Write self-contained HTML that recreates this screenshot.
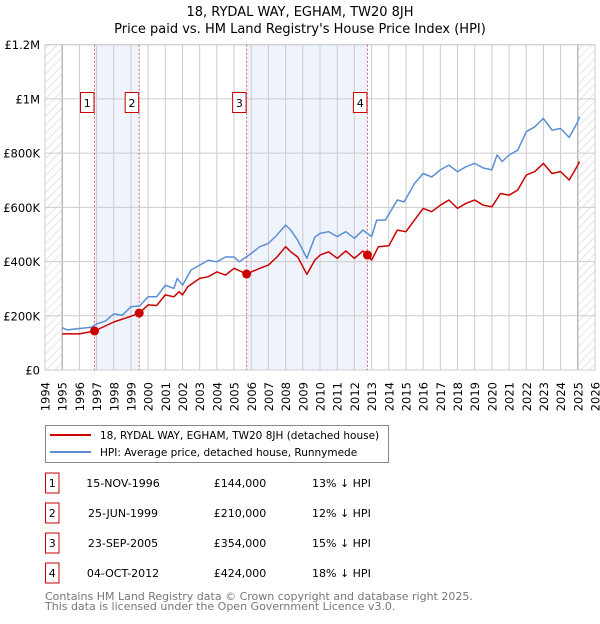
<!DOCTYPE html>
<html><head><meta charset="utf-8"><style>
body{margin:0;background:#fff;font-family:"DejaVu Sans","Liberation Sans",sans-serif;}
svg text{font-family:"DejaVu Sans","Liberation Sans",sans-serif;}
</style></head><body>
<svg id="c" width="600" height="620" viewBox="0 0 600 620" xmlns="http://www.w3.org/2000/svg">
<defs><pattern id="hatch" width="6" height="6" patternUnits="userSpaceOnUse" patternTransform="rotate(45)"><line x1="0" y1="0" x2="0" y2="6" stroke="#ccc" stroke-width="1"/></pattern></defs>
<text x="300" y="16" text-anchor="middle" font-size="13">18, RYDAL WAY, EGHAM, TW20 8JH</text>
<text x="300" y="33" text-anchor="middle" font-size="13">Price paid vs. HM Land Registry's House Price Index (HPI)</text>
<g id="plot"></g>
<g>
<rect x="45.5" y="425.5" width="343" height="37" fill="#fff" stroke="#888"/>
<line x1="50" y1="435" x2="91" y2="435" stroke="#cc0000" stroke-width="2"/>
<text x="100" y="439" font-size="10.5">18, RYDAL WAY, EGHAM, TW20 8JH (detached house)</text>
<line x1="50" y1="452" x2="91" y2="452" stroke="#5b8fd4" stroke-width="2"/>
<text x="100" y="456" font-size="10.5">HPI: Average price, detached house, Runnymede</text>
</g>
<g id="table"></g>
<text x="45" y="600" font-size="11" fill="#777">Contains HM Land Registry data © Crown copyright and database right 2025.</text>
<text x="45" y="610" font-size="11" fill="#777">This data is licensed under the Open Government Licence v3.0.</text>
</svg>
<script>
const hpiYears=[1995,1995.3,1996,1996.7,1997,1997.5,1998,1998.5,1999,1999.5,2000,2000.5,2001,2001.5,2001.7,2002,2002.5,2003,2003.5,2004,2004.5,2005,2005.3,2005.7,2006,2006.5,2007,2007.5,2008,2008.3,2008.7,2009.24,2009.7,2010,2010.5,2011,2011.5,2012,2012.5,2013,2013.3,2013.8,2014.5,2014.9,2015.5,2016,2016.5,2017,2017.5,2018,2018.5,2019,2019.5,2020,2020.3,2020.6,2021,2021.5,2022,2022.5,2023,2023.5,2024,2024.5,2025,2025.1];
const hpiValues=[156,148,153,158,170,180,207,202,233,236,270,270,313,301,338,313,369,387,405,399,417,417,399,417,430,455,467,498,535,516,479,412,490,504,510,492,510,486,516,492,553,553,627,620,688,725,712,738,756,732,750,762,745,738,793,769,793,811,879,897,928,885,891,858,916,934];
const priceYears=[1995,1996,1996.88,1998,1999,1999.48,2000,2000.5,2001,2001.5,2001.8,2002,2002.3,2003,2003.5,2004,2004.5,2005,2005.73,2006,2006.5,2007,2007.5,2008,2008.3,2008.7,2009.24,2009.7,2010,2010.5,2011,2011.5,2012,2012.5,2012.76,2013,2013.4,2014,2014.5,2015,2015.5,2016,2016.5,2017,2017.5,2018,2018.5,2019,2019.5,2020,2020.5,2021,2021.5,2022,2022.5,2023,2023.5,2024,2024.5,2025,2025.1];
const priceValues=[133,133,144,177,198,210,240,238,277,270,289,277,307,338,344,362,350,375,354,362,375,387,417,455,436,417,353,405,424,436,412,439,412,439,424,405,455,458,516,510,553,596,584,608,627,596,615,627,608,602,651,645,664,719,732,762,725,732,701,756,769];
const saleYears=[1996.88,1999.48,2005.73,2012.76];
const saleValues=[144,210,354,424];
const saleLabels=["1","2","3","4"];
const saleDates=["15-NOV-1996","25-JUN-1999","23-SEP-2005","04-OCT-2012"];
const salePrices=["£144,000","£210,000","£354,000","£424,000"];
const saleDiffs=["13% ↓ HPI","12% ↓ HPI","15% ↓ HPI","18% ↓ HPI"];
const yTicks=[0,200,400,600,800,1000,1200];
const yTickLabels=["£0","£200K","£400K","£600K","£800K","£1M","£1.2M"];
const xTicks=[1994,1995,1996,1997,1998,1999,2000,2001,2002,2003,2004,2005,2006,2007,2008,2009,2010,2011,2012,2013,2014,2015,2016,2017,2018,2019,2020,2021,2022,2023,2024,2025,2026];

const L=45,R=595,T=44.7,B=370,X0=1994,X1=2026,YM=1200;
const xs=v=>L+(v-X0)/(X1-X0)*(R-L);
const ys=v=>B-v/YM*(B-T);
const NS='http://www.w3.org/2000/svg';
const plot=document.getElementById('plot');
function mk(tag,attrs,parent){const e=document.createElementNS(NS,tag);for(const k in attrs)e.setAttribute(k,attrs[k]);(parent||plot).appendChild(e);return e;}

for(let i=0;i<saleYears.length;i+=2){
 const r=mk('rect',{x:xs(saleYears[i]),y:T,width:xs(saleYears[i+1])-xs(saleYears[i]),height:B-T,fill:'#eef3fc'});
 
 
}
const h1=mk('rect',{x:L,y:T,width:xs(1995)-L,height:B-T,fill:'url(#hatch)'});


const h2=mk('rect',{x:xs(2025),y:T,width:R-xs(2025),height:B-T,fill:'url(#hatch)'});


xTicks.forEach((t,i)=>{
 const g=mk('line',{x1:xs(t),x2:xs(t),y1:T,y2:B,stroke:(t==1995||t==2025)?'#999':'#ccc','stroke-width':1});
 
 
 const tx=mk('text',{x:0,y:0,'font-size':11.5,'text-anchor':'end',transform:`translate(${xs(t)+4.5},382) rotate(-90)`});
 tx.textContent=t;
 
 
});
yTicks.forEach((t,i)=>{
 const g=mk('line',{x1:L,x2:R,y1:ys(t),y2:ys(t),stroke:'#ccc','stroke-width':1});
 
 
 const tx=mk('text',{x:40,y:ys(t)+4.5,'font-size':11.5,'text-anchor':'end'});
 tx.textContent=yTickLabels[i];
 
 
});
const fr=mk('rect',{x:L,y:T,width:R-L,height:B-T,fill:'none',stroke:'#ccc'});


saleYears.forEach((s,i)=>{
 const l=mk('line',{x1:xs(s),x2:xs(s),y1:T,y2:B,stroke:'#e06060','stroke-width':1,'stroke-dasharray':'2,2'});
 
 
});
function path(xv,yv,color,name){
 const d=xv.map((x,i)=>(i?'L':'M')+xs(x).toFixed(1)+','+ys(yv[i]).toFixed(1)).join('');
 const p=mk('path',{d:d,fill:'none',stroke:color,'stroke-width':1.5,'stroke-linejoin':'round'});
 
 
}
path(hpiYears,hpiValues,'#5b8fd4','hpi-line');
path(priceYears,priceValues,'#cc0000','price-line');
saleYears.forEach((s,i)=>{
 const c=mk('circle',{cx:xs(s),cy:ys(saleValues[i]),r:4.5,fill:'#cc0000'});
 
 
 const b=mk('rect',{x:xs(s)-14,y:92.5,width:13.5,height:20,fill:'#fff',stroke:'#cc0000'});
 
 
 const t=mk('text',{x:xs(s)-7.2,y:107,'font-size':11,'text-anchor':'middle'});
 t.textContent=saleLabels[i];
 
 
});
const tb=document.getElementById('table');
saleLabels.forEach((lab,i)=>{
 const cy=483+i*30;
 const b=mk('rect',{x:45.5,y:cy-10,width:13.5,height:20,fill:'#fff',stroke:'#cc0000'},tb);
 
 
 const cols=[[52.2,lab,'middle'],[123,saleDates[i],'middle'],[240,salePrices[i],'middle'],[312,saleDiffs[i],'start']];
 cols.forEach(c=>{
  const t=mk('text',{x:c[0],y:cy+4,'font-size':11,'text-anchor':c[2]},tb);
  t.textContent=c[1];
  
  
 });
});
</script>
</body></html>
